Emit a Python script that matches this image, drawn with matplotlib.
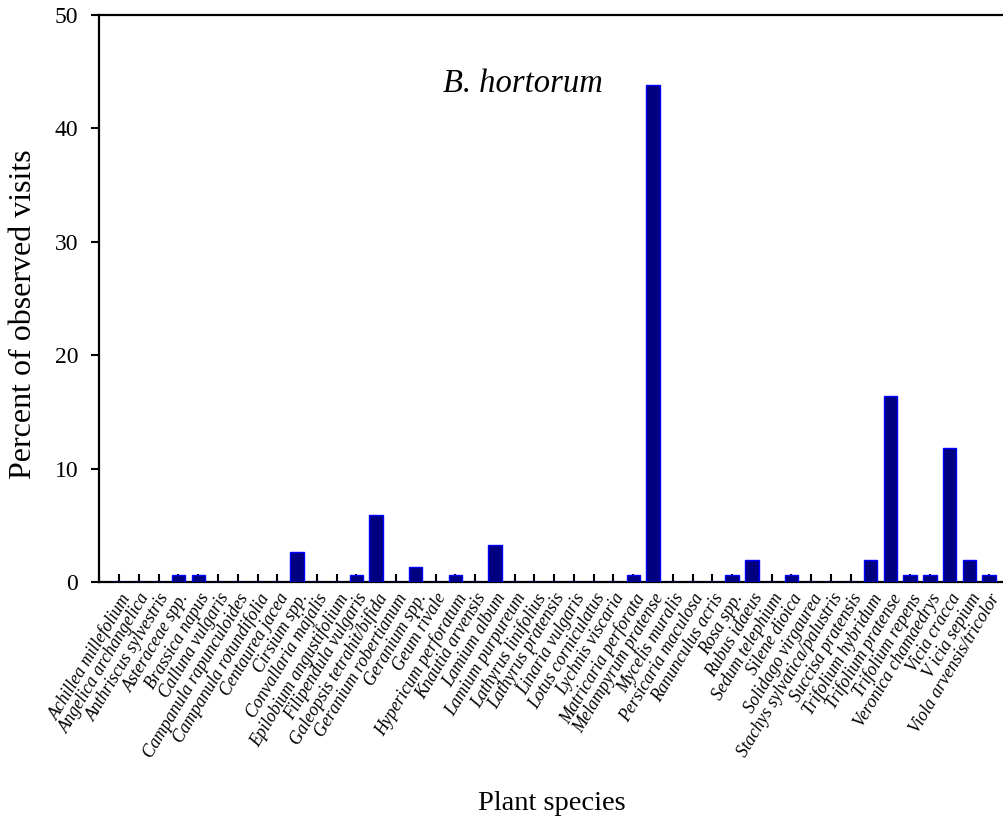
import matplotlib
matplotlib.use("Agg")
import matplotlib.pyplot as plt

species = ["Achillea millefolium", "Angelica archangelica", "Anthriscus sylvestris",
           "Asteraceae spp.", "Brassica napus", "Calluna vulgaris",
           "Campanula rapunculoides", "Campanula rotundifolia", "Centaurea jacea",
           "Cirsium spp.", "Convallaria majalis", "Epilobium angustifolium",
           "Filipendula vulgaris", "Galeopsis tetrahit/bifida", "Geranium robertianum",
           "Geranium spp.", "Geum rivale", "Hypericum perforatum", "Knautia arvensis",
           "Lamium album", "Lamium purpureum", "Lathyrus linifolius", "Lathyrus pratensis",
           "Linaria vulgaris", "Lotus corniculatus", "Lychnis viscaria",
           "Matricaria perforata", "Melampyrum pratense", "Mycelis muralis",
           "Persicaria maculosa", "Ranunculus acris", "Rosa spp.", "Rubus idaeus",
           "Sedum telephium", "Silene dioica", "Solidago virgaurea",
           "Stachys sylvatica/palustris", "Succisa pratensis", "Trifolium hybridum",
           "Trifolium pratense", "Trifolium repens", "Veronica chamaedrys",
           "Vicia cracca", "V icia sepium", "Viola arvensis/tricolor"]

percent_visits = [0, 0, 0, 0.66, 0.66, 0, 0, 0, 0, 2.63, 0, 0, 0.66, 5.92, 0,
                  1.32, 0, 0.66, 0, 3.29, 0, 0, 0, 0, 0, 0, 0.66, 43.8, 0, 0,
                  0, 0.66, 1.97, 0, 0.66, 0, 0, 0, 1.97, 16.4, 0.66, 0.66,
                  11.8, 1.97, 0.66]

title_text = "B. hortorum"
x_label = "Plant species"
y_label = "Percent of observed visits"
y_ticks = [0, 10, 20, 30, 40, 50]

plt.rcParams['font.family'] = ['Liberation Serif', 'DejaVu Serif']

fig = plt.figure(figsize=(10.04, 8.23), dpi=100)
ax = fig.add_axes([99 / 1004, 1 - 582 / 823, 1 - 99 / 1004, (582 - 15) / 823])

x = list(range(len(species)))
ax.bar(x, percent_visits, width=0.68, color='#000080', edgecolor='#0000FF', linewidth=1.0, zorder=3)

ax.set_xlim(-1.02, 44.75)
ax.set_ylim(0, 50)
ax.set_yticks(y_ticks)
ax.set_xticks(x)
ax.set_xticklabels(species, rotation=59, ha='right', rotation_mode='anchor',
                   fontstyle='italic', fontsize=12.7)
ax.tick_params(axis='y', direction='out', length=6, width=1.5, labelsize=17, pad=9)
ax.tick_params(axis='x', direction='in', length=6, width=1.5, pad=6)

for side in ['left', 'bottom', 'top']:
    ax.spines[side].set_linewidth(1.6)
ax.spines['right'].set_visible(False)

ax.set_xlabel(x_label, fontsize=20.5)
ax.xaxis.set_label_coords(0.5, -0.368)
ax.set_ylabel(y_label, fontsize=23)
ax.yaxis.set_label_coords(-0.067, 0.473)

ax.text(0.468, 0.864, title_text, transform=ax.transAxes, fontsize=23.5,
        fontstyle='italic', ha='center', va='baseline')

fig.savefig("out.png", dpi=100)
